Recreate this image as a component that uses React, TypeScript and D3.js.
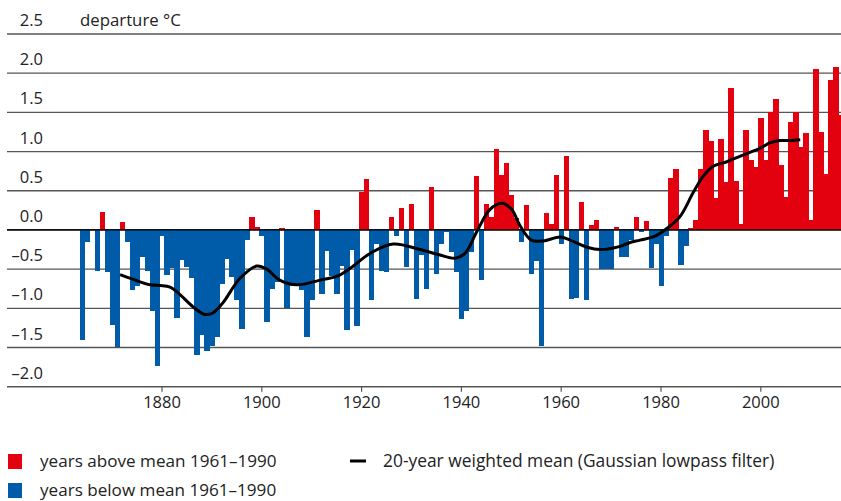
import React from "react";
import * as d3 from "d3";

const startYear = 1864;
const anomalies: number[] = [
  // 1864-1873
  -1.41, -0.16, 0.01, -0.52, 0.23, -0.54, -1.21, -1.49, 0.10, -0.16,
  // 1874-1883
  -0.77, -0.72, -0.35, -0.52, -1.04, -1.73, -0.08, -0.58, -0.49, -1.12,
  // 1884-1893
  -0.38, -0.47, -0.61, -1.60, -1.34, -1.55, -1.48, -1.37, -0.69, -0.37,
  // 1894-1903
  -0.60, -0.90, -1.26, -0.13, 0.17, 0.04, -0.08, -1.17, -0.75, -0.67,
  // 1904-1913
  0.02, -1.00, -0.71, -0.71, -0.77, -1.37, -0.90, 0.26, -0.82, -0.27,
  // 1914-1923
  -0.59, -0.82, -0.46, -1.28, -0.26, -1.22, 0.49, 0.65, -0.90, -0.18,
  // 1924-1933
  -0.52, -0.54, 0.17, -0.08, 0.28, -0.47, 0.33, -0.88, -0.32, -0.75,
  // 1934-1943
  0.55, -0.56, -0.18, -0.03, -0.28, -0.54, -1.14, -1.03, -0.28, 0.69,
  // 1944-1953
  -0.64, 0.33, 0.17, 1.03, 0.70, 0.85, 0.45, 0.15, -0.16, 0.32,
  // 1954-1963
  -0.56, -0.40, -1.48, 0.22, 0.08, 0.70, -0.18, 0.94, -0.88, -0.87,
  // 1964-1973
  0.36, -0.90, 0.06, 0.13, -0.50, -0.50, -0.50, 0.04, -0.34, -0.35,
  // 1974-1983
  -0.13, 0.16, -0.03, 0.12, -0.48, -0.18, -0.72, -0.08, 0.66, 0.78,
  // 1984-1993
  -0.45, -0.21, 0.03, 0.13, 0.78, 1.28, 1.14, 0.41, 1.16, 0.61,
  // 1994-2003
  1.81, 0.62, 0.07, 1.28, 0.89, 0.80, 1.43, 0.89, 1.51, 1.67,
  // 2004-2013
  0.83, 0.42, 1.38, 1.51, 1.06, 1.24, 0.13, 2.05, 1.25, 0.71,
  // 2014-2016
  1.91, 2.08, 1.47,
];

const smoothYears: number[] = [
  1871.6, 1874.2, 1877.6, 1879.6, 1881.6, 1883.0, 1886.2, 1888.2, 1889.0, 1890.2,
  1892.2, 1895.6, 1899.0, 1901.0, 1903.6, 1907.1, 1911.7, 1915.1, 1917.7, 1921.7,
  1926.3, 1931.7, 1935.7, 1938.7, 1940.7, 1943.1, 1945.7, 1948.1, 1950.1, 1951.7,
  1954.0, 1956.4, 1959.8, 1961.8, 1965.2, 1967.8, 1971.8, 1973.8, 1975.8, 1978.8,
  1981.2, 1983.8, 1986.4, 1988.4, 1990.4, 1993.2, 1995.8, 1999.8, 2001.8, 2003.8,
  2005.8, 2007.9,
];
const smoothValues: number[] = [
  -0.57, -0.63, -0.70, -0.71, -0.73, -0.79, -0.98, -1.07, -1.08, -1.06,
  -0.93, -0.62, -0.46, -0.50, -0.64, -0.70, -0.64, -0.59, -0.49, -0.30,
  -0.18, -0.25, -0.32, -0.36, -0.30, -0.02, 0.26, 0.34, 0.26, 0.06,
  -0.13, -0.14, -0.09, -0.13, -0.22, -0.25, -0.21, -0.16, -0.13, -0.08,
  0.02, 0.17, 0.47, 0.68, 0.81, 0.87, 0.94, 1.04, 1.11, 1.14,
  1.14, 1.15,
];

const yTicks: number[] = [2.5, 2.0, 1.5, 1.0, 0.5, 0.0, -0.5, -1.0, -1.5, -2.0];
const xTicks: number[] = [1880, 1900, 1920, 1940, 1960, 1980, 2000];

const unitLabel = "departure °C";
const legendAbove = "years above mean 1961–1990";
const legendBelow = "years below mean 1961–1990";
const legendLine = "20-year weighted mean (Gaussian lowpass filter)";

const RED = "#e3000f";
const BLUE = "#005ba9";
const FONT = "'Open Sans', 'Noto Sans', sans-serif";

export default function App() {
  const W = 841;
  const H = 501;
  const x = d3.scaleLinear().domain([1880, 2000]).range([162, 760.8]);
  const y = d3.scaleLinear().domain([-2, 2.5]).range([386.7, 34]);
  const gridX0 = 7;

  const bars = anomalies.map((v, i) => ({ year: startYear + i, v }));
  const smooth = smoothYears.map((yr, i) => [yr, smoothValues[i]] as [number, number]);
  const line = d3
    .line<[number, number]>()
    .x((d) => x(d[0]))
    .y((d) => y(d[1]))
    .curve(d3.curveCatmullRom.alpha(0.5));

  const fmt = (v: number) => (v < 0 ? "–" + d3.format(".1f")(-v) : d3.format(".1f")(v));

  return (
    <svg
      width={W}
      height={H}
      style={{ position: "absolute", left: 0, top: 0, display: "block", background: "#fff" }}
      fontFamily={FONT}
    >
      {/* grid lines */}
      {yTicks.map((t) => (
        <line
          key={"g" + t}
          x1={gridX0}
          x2={W}
          y1={y(t)}
          y2={y(t)}
          stroke={t === 0 ? "#000" : "#555"}
          strokeWidth={t === -2 ? 1.6 : 1.3}
        />
      ))}
      {/* y labels */}
      {yTicks.map((t) => (
        <text key={"l" + t} x={43} y={y(t) - 8} textAnchor="end" fontSize={16.5} fill="#222">
          {fmt(t)}
        </text>
      ))}
      <text x={80} y={y(2.5) - 8} fontSize={16.8} fill="#222">
        {unitLabel}
      </text>
      {/* bars */}
      <g shapeRendering="crispEdges">
        {bars.map((b) => {
          const x0 = x(b.year - 0.5);
          const x1 = x(b.year + 0.5);
          const y0 = y(Math.max(0, b.v));
          const y1 = y(Math.min(0, b.v));
          return (
            <rect
              key={b.year}
              x={x0}
              width={x1 - x0 + 0.4}
              y={y0}
              height={Math.max(0.5, y1 - y0)}
              fill={b.v >= 0 ? RED : BLUE}
            />
          );
        })}
      </g>
      {/* zero line on top */}
      <line x1={gridX0} x2={W} y1={y(0)} y2={y(0)} stroke="#000" strokeWidth={1.2} />
      {/* smoothed line */}
      <path d={line(smooth) || ""} fill="none" stroke="#000" strokeWidth={3} strokeLinejoin="round" />
      {/* x axis ticks */}
      {xTicks.map((t) => (
        <g key={"x" + t}>
          <line x1={x(t)} x2={x(t)} y1={y(-2)} y2={y(-2) + 5} stroke="#555" strokeWidth={1.2} />
          <text x={x(t)} y={408} textAnchor="middle" fontSize={16.5} fill="#222">
            {t}
          </text>
        </g>
      ))}
      {/* legend */}
      <rect x={8} y={454} width={14} height={15} fill={RED} />
      <text x={40} y={467} fontSize={17.1} fill="#222">
        {legendAbove}
      </text>
      <rect x={8} y={483} width={14} height={15} fill={BLUE} />
      <text x={40} y={496} fontSize={17.1} fill="#222">
        {legendBelow}
      </text>
      <line x1={350} x2={366} y1={461} y2={461} stroke="#000" strokeWidth={3} />
      <text x={383} y={467} fontSize={17.4} fill="#222">
        {legendLine}
      </text>
    </svg>
  );
}
